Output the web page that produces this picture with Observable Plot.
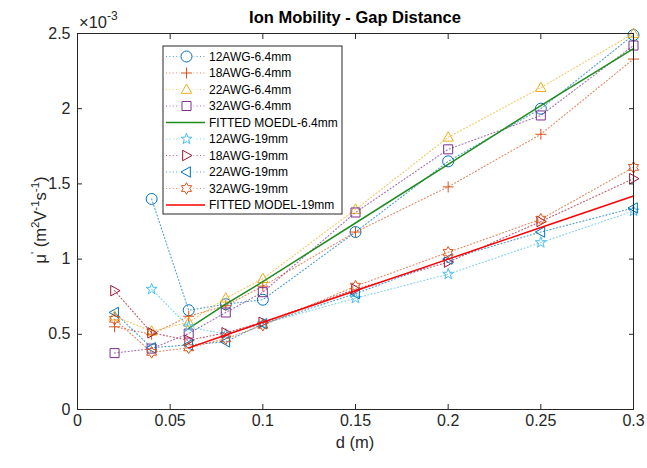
<!DOCTYPE html>
<html><head><meta charset="utf-8">
<script src="https://cdn.jsdelivr.net/npm/d3@7"></script>
<script src="https://cdn.jsdelivr.net/npm/@observablehq/plot@0.6"></script>
<style>body{margin:0;background:#fff}</style>
</head><body><div id="chart"></div><script>
// ---- data (values in units of 1e-3 m^2 V^-1 s^-1) ----
const xFull = [0.02, 0.04, 0.06, 0.08, 0.1, 0.15, 0.2, 0.25, 0.3];
const xFrom04 = [0.04, 0.06, 0.08, 0.1, 0.15, 0.2, 0.25, 0.3];
const xFit = [0.06, 0.08, 0.1, 0.15, 0.2, 0.25, 0.3];

const awg12_64 = [1.40, 0.66, 0.70, 0.73, 1.18, 1.65, 2.00, 2.49];
const awg18_64 = [0.55, 0.50, 0.62, 0.69, 0.82, 1.18, 1.48, 1.83, 2.33];
const awg22_64 = [0.62, 0.52, 0.58, 0.74, 0.87, 1.33, 1.81, 2.14, 2.50];
const awg32_64 = [0.375, 0.405, 0.505, 0.645, 0.78, 1.31, 1.73, 1.955, 2.42];
const fit_64 = [0.54, 0.70, 0.85, 1.24, 1.63, 2.02, 2.40];
const awg12_19 = [0.80, 0.55, 0.50, 0.57, 0.74, 0.90, 1.11, 1.32];
const awg18_19 = [0.79, 0.51, 0.46, 0.51, 0.58, 0.80, 0.98, 1.25, 1.535];
const awg22_19 = [0.645, 0.41, 0.43, 0.45, 0.57, 0.77, 1.00, 1.18, 1.34];
const awg32_19 = [0.60, 0.38, 0.41, 0.47, 0.56, 0.82, 1.045, 1.265, 1.61];
const fit_19 = [0.41, 0.495, 0.58, 0.79, 1.00, 1.21, 1.42];

const xTicks = [0, 0.05, 0.1, 0.15, 0.2, 0.25, 0.3];
const xTickLabels = ["0", "0.05", "0.1", "0.15", "0.2", "0.25", "0.3"];
const yTicks = [0, 0.5, 1, 1.5, 2, 2.5];
const yTickLabels = ["0", "0.5", "1", "1.5", "2", "2.5"];

// ---- symbols ----
function sym(fn) { return {draw(ctx, size) { fn(ctx, Math.sqrt(size / Math.PI)); }}; }
function poly(ctx, pts) { ctx.moveTo(pts[0][0], pts[0][1]); for (let i = 1; i < pts.length; i++) ctx.lineTo(pts[i][0], pts[i][1]); ctx.closePath(); }
function star(ctx, n, ro, ri) {
  const pts = [];
  for (let i = 0; i < 2 * n; i++) {
    const a = -Math.PI / 2 + i * Math.PI / n, rr = i % 2 ? ri : ro;
    pts.push([rr * Math.cos(a), rr * Math.sin(a)]);
  }
  poly(ctx, pts);
}
const S = {
  circle: sym((c, r) => { c.moveTo(r, 0); c.arc(0, 0, r, 0, 2 * Math.PI); }),
  plus: sym((c, r) => { c.moveTo(-r, 0); c.lineTo(r, 0); c.moveTo(0, -r); c.lineTo(0, r); }),
  triUp: sym((c, r) => poly(c, [[0, -r], [r * 0.95, r * 0.7], [-r * 0.95, r * 0.7]])),
  square: sym((c, r) => poly(c, [[-0.82 * r, -0.82 * r], [0.82 * r, -0.82 * r], [0.82 * r, 0.82 * r], [-0.82 * r, 0.82 * r]])),
  penta: sym((c, r) => star(c, 5, r * 1.05, r * 0.42)),
  triRight: sym((c, r) => poly(c, [[r, 0], [-0.7 * r, -0.95 * r], [-0.7 * r, 0.95 * r]])),
  triLeft: sym((c, r) => poly(c, [[-r, 0], [0.7 * r, -0.95 * r], [0.7 * r, 0.95 * r]])),
  hexa: sym((c, r) => star(c, 6, r * 1.05, r * 0.6))
};

const series = [
  {name: "12AWG-6.4mm", x: xFrom04, y: awg12_64, color: "#0072BD", symbol: S.circle},
  {name: "18AWG-6.4mm", x: xFull, y: awg18_64, color: "#D95319", symbol: S.plus},
  {name: "22AWG-6.4mm", x: xFull, y: awg22_64, color: "#EDB120", symbol: S.triUp},
  {name: "32AWG-6.4mm", x: xFull, y: awg32_64, color: "#7E2F8E", symbol: S.square},
  {name: "FITTED MOEDL-6.4mm", x: xFit, y: fit_64, color: "#1f8c1f", fit: true},
  {name: "12AWG-19mm", x: xFrom04, y: awg12_19, color: "#4DBEEE", symbol: S.penta},
  {name: "18AWG-19mm", x: xFull, y: awg18_19, color: "#A2142F", symbol: S.triRight},
  {name: "22AWG-19mm", x: xFull, y: awg22_19, color: "#0072BD", symbol: S.triLeft},
  {name: "32AWG-19mm", x: xFull, y: awg32_19, color: "#D95319", symbol: S.hexa},
  {name: "FITTED MODEL-19mm", x: xFit, y: fit_19, color: "#FF0000", fit: true}
];

const R = 5.5;
const DASH = "1,2.4";
const marks = [];
for (const s of series) {
  const data = s.x.map((x, i) => ({x, y: s.y[i]}));
  if (s.fit) {
    marks.push(Plot.line(data, {x: "x", y: "y", stroke: s.color, strokeWidth: 1.5}));
  } else {
    marks.push(Plot.line(data, {x: "x", y: "y", stroke: s.color, strokeWidth: 1.1, strokeDasharray: DASH, strokeOpacity: 0.7}));
    marks.push(Plot.dot(data, {x: "x", y: "y", stroke: s.color, fill: "none", strokeWidth: 1, r: R, symbol: s.symbol}));
  }
}

const axisColor = "#262626";
const plot = Plot.plot({
  width: 647, height: 468,
  marginLeft: 77, marginRight: 14, marginTop: 33, marginBottom: 59,
  style: {fontFamily: "'Liberation Sans', Arial, sans-serif", background: "#fff", color: axisColor},
  x: {domain: [0, 0.3]},
  y: {domain: [0, 2.5]},
  marks: [
    ...marks,
    Plot.frame({stroke: axisColor, strokeWidth: 1}),
    Plot.axisX(xTicks, {anchor: "bottom", tickSize: 0, tickPadding: 5, fontSize: 16, label: null, tickFormat: (d, i) => xTickLabels[i]}),
    Plot.axisY(yTicks, {anchor: "left", tickSize: 0, tickPadding: 7, fontSize: 16, label: null, tickFormat: (d, i) => yTickLabels[i]}),
    Plot.axisX(xTicks, {anchor: "bottom", tickSize: 5, dy: -5, fill: "none", label: null, stroke: axisColor}),
    Plot.axisX(xTicks, {anchor: "top", tickSize: 5, dy: 5, fill: "none", label: null, stroke: axisColor}),
    Plot.axisY(yTicks, {anchor: "left", tickSize: 5, dx: 5, fill: "none", label: null, stroke: axisColor}),
    Plot.axisY(yTicks, {anchor: "right", tickSize: 5, dx: -5, fill: "none", label: null, stroke: axisColor})
  ]
});
document.getElementById("chart").appendChild(plot);

// ---- annotations: title, axis labels, exponent, legend ----
const svg = d3.select(plot);
const font = "'Liberation Sans', Arial, sans-serif";
svg.append("text").attr("x", 355).attr("y", 23).attr("text-anchor", "middle")
  .attr("font-family", font).attr("font-size", 16.5).attr("font-weight", "bold").attr("fill", "#000")
  .text("Ion Mobility - Gap Distance");
svg.append("text").attr("x", 355).attr("y", 448).attr("text-anchor", "middle")
  .attr("font-family", font).attr("font-size", 16.5).attr("fill", axisColor).text("d (m)");
const yl = svg.append("text").attr("transform", "translate(46,220) rotate(-90)").attr("text-anchor", "middle")
  .attr("font-family", font).attr("font-size", 16.5).attr("fill", axisColor);
const parts = [["μ", 0], ["'", 1], [" (m", 0], ["2", 1], ["V", 0], ["-1", 1], ["s", 0], ["-1", 1], [")", 0]];
let up = false;
for (const [t, sup] of parts) {
  const ts = yl.append("tspan").text(t);
  if (sup && !up) { ts.attr("dy", -7).attr("font-size", 11.5); up = true; }
  else if (sup) { ts.attr("font-size", 11.5); }
  else if (up) { ts.attr("dy", 7); up = false; }
}
const ex = svg.append("text").attr("x", 79).attr("y", 28).attr("text-anchor", "start")
  .attr("font-family", font).attr("font-size", 16.5).attr("fill", axisColor);
ex.append("tspan").text("×10");
ex.append("tspan").attr("dy", -8).attr("font-size", 12).text("-3");

const lg = svg.append("g");
lg.append("rect").attr("x", 163).attr("y", 46).attr("width", 179).attr("height", 168)
  .attr("fill", "#fff").attr("stroke", axisColor).attr("stroke-width", 1);
series.forEach((s, i) => {
  const y = 56.5 + i * 16.5;
  const ln = lg.append("line").attr("x1", 166).attr("x2", 205).attr("y1", y).attr("y2", y).attr("stroke", s.color);
  if (s.fit) ln.attr("stroke-width", 1.5);
  else {
    ln.attr("stroke-width", 1.1).attr("stroke-dasharray", DASH).attr("stroke-opacity", 0.7);
    const p = d3.path(); s.symbol.draw(p, R * R * Math.PI);
    lg.append("rect").attr("x", 186.5 - 7).attr("y", y - 7).attr("width", 14).attr("height", 14).attr("fill", "#fff");
    lg.append("path").attr("d", p.toString()).attr("transform", `translate(186.5,${y})`)
      .attr("fill", "none").attr("stroke", s.color).attr("stroke-width", 1);
  }
  lg.append("text").attr("x", 209).attr("y", y + 4.3).attr("text-anchor", "start")
    .attr("font-family", font).attr("font-size", 12).attr("fill", "#000").text(s.name);
});
</script></body></html>
